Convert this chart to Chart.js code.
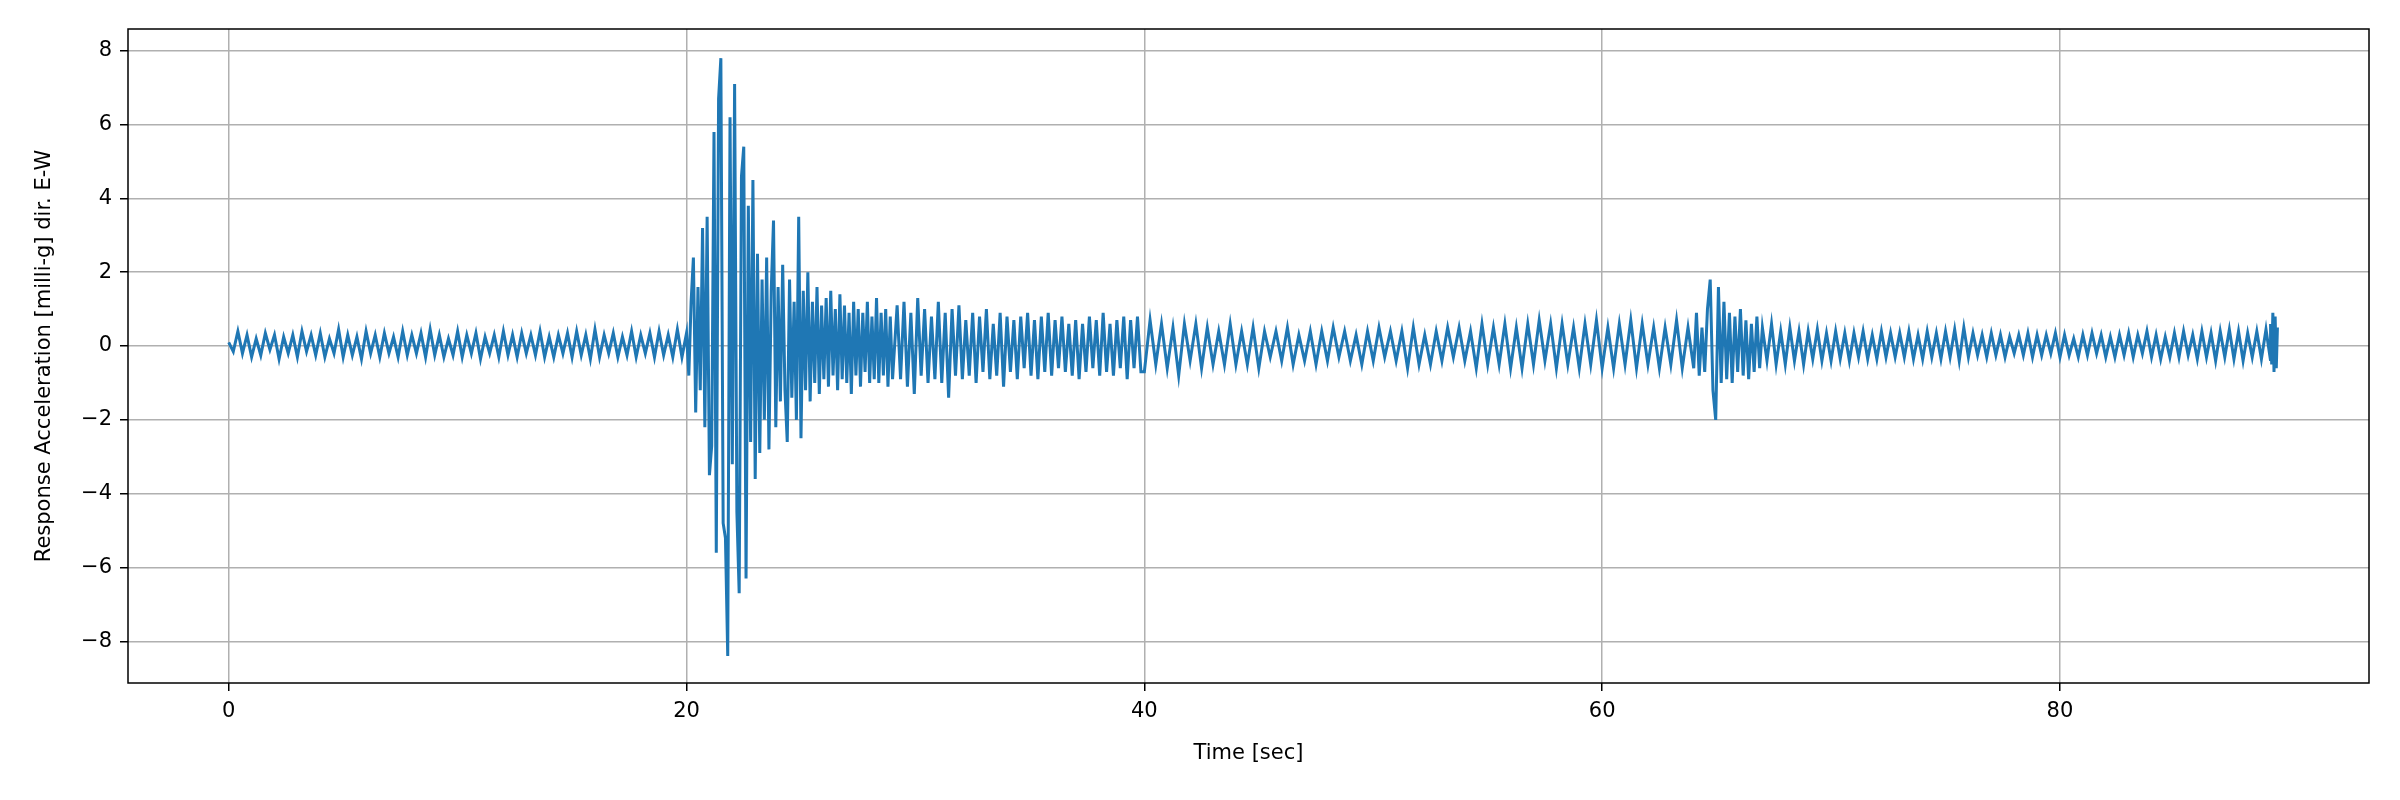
<!DOCTYPE html>
<html><head><meta charset="utf-8">
<script src="https://cdn.jsdelivr.net/npm/chart.js@4/dist/chart.umd.min.js"></script>
<style>html,body{margin:0;background:#fff}</style></head>
<body><canvas id="c" width="2400" height="800"></canvas>
<script>
// Segments of the record: start time [s], sample step [s], values [milli-g]
const seg1Start = 0, seg1Step = 0.2;
const seg1Values = [0.1,-0.15,0.4,-0.2,0.3,-0.3,0.2,-0.25,0.35,-0.1,0.3,-0.35,0.25,-0.2,0.3,-0.3,0.4,-0.15,0.3,-0.25,0.35,-0.3,0.2,-0.2,0.45,-0.3,0.3,-0.25,0.25,-0.35,0.4,-0.2,0.3,-0.3,0.35,-0.2,0.25,-0.3,0.4,-0.25,0.3,-0.2,0.35,-0.3,0.45,-0.25,0.3,-0.3,0.2,-0.25,0.4,-0.3,0.3,-0.2,0.35,-0.35,0.25,-0.2,0.3,-0.3,0.4,-0.25,0.3,-0.3,0.35,-0.2,0.3,-0.25,0.4,-0.3,0.25,-0.3,0.3,-0.2,0.35,-0.3,0.4,-0.25,0.3,-0.35,0.45,-0.3,0.3,-0.2,0.35,-0.3,0.25,-0.25,0.4,-0.3,0.3,-0.2,0.35,-0.3,0.4,-0.25,0.3,-0.3,0.45,-0.3,0.35];
const seg2Start = 20.1, seg2Step = 0.1;
const seg2Values = [-0.8,1.2,2.4,-1.8,1.6,-1.2,3.2,-2.2,3.5,-3.5,-2.7,5.8,-5.6,6.7,7.8,-4.8,-5.2,-8.4,6.2,-3.2,7.1,-4.5,-6.7,4.6,5.4,-6.3,3.8,-2.6,4.5,-3.6,2.5,-2.9,1.8,-2.0,2.4,-2.8,1.5,3.4,-2.2,1.6,-1.5,2.2,-1.2,-2.6,1.8,-1.4,1.2,-2.0,3.5,-2.5,1.5,-1.2,2.0,-1.5,1.2,-1.0,1.6,-1.3,1.1,-0.9,1.3,-1.1,1.5,-0.8,1.0,-1.2,1.4,-0.9,1.1,-1.0,0.9,-1.3,1.2,-0.8,1.0,-1.1,0.9,-0.7,1.2,-1.0,0.8,-0.9,1.3,-1.0,0.9,-0.8,1.0,-1.1,0.8,-0.9];
const seg3Start = 29.2, seg3Step = 0.15;
const seg3Values = [1.1,-0.9,1.2,-1.1,0.9,-1.3,1.3,-0.8,1.0,-1.0,0.8,-0.9,1.2,-1.0,0.9,-1.4,1.0,-0.8,1.1,-0.9,0.7,-0.8,0.9,-1.0,0.8,-0.7,1.0,-0.9,0.6,-0.8,0.9,-1.1,0.8,-0.7,0.7,-0.9,0.8,-0.6,0.9,-0.8,0.7,-0.9,0.8,-0.7,0.9,-0.8,0.7,-0.6,0.8,-0.7,0.6,-0.8,0.7,-0.9,0.6,-0.7,0.8,-0.6,0.7,-0.8,0.9,-0.7,0.6,-0.8,0.7,-0.6,0.8,-0.9,0.7,-0.6,0.8,-0.7];
const seg4Start = 40.0, seg4Step = 0.25;
const seg4Values = [-0.7,0.7,-0.5,0.6,-0.6,0.5,-0.8,0.6,-0.4,0.6,-0.6,0.5,-0.5,0.4,-0.5,0.6,-0.5,0.4,-0.5,0.5,-0.6,0.4,-0.3,0.4,-0.4,0.5,-0.5,0.3,-0.4,0.4,-0.5,0.4,-0.4,0.5,-0.3,0.4,-0.4,0.3,-0.5,0.4,-0.4,0.5,-0.3,0.4,-0.4,0.4,-0.6,0.5,-0.5,0.3,-0.5,0.4,-0.4,0.5,-0.3,0.5,-0.4,0.4,-0.6,0.6,-0.5,0.5,-0.5,0.6,-0.6,0.5,-0.6,0.6,-0.5,0.7,-0.4,0.6,-0.6,0.6,-0.5,0.5,-0.6,0.6,-0.5,0.7,-0.6,0.5,-0.6,0.6,-0.5,0.7,-0.6,0.6,-0.5,0.5,-0.6,0.5,-0.5,0.7,-0.6,0.5];
const seg5Start = 64.0, seg5Step = 0.12;
const seg5Values = [-0.6,0.9,-0.8,0.5,-0.7,1.0,1.8,-1.2,-2.0,1.6,-1.0,1.2,-0.9,0.9,-1.0,0.8,-0.7,1.0,-0.8,0.7,-0.9,0.6,-0.7,0.8,-0.6];
const seg6Start = 67.0, seg6Step = 0.2;
const seg6Values = [0.5,-0.4,0.6,-0.5,0.4,-0.5,0.5,-0.4,0.4,-0.5,0.4,-0.35,0.45,-0.4,0.35,-0.4,0.4,-0.35,0.35,-0.4,0.35,-0.3,0.4,-0.35,0.3,-0.35,0.4,-0.3,0.35,-0.3,0.35,-0.3,0.4,-0.35,0.3,-0.35,0.4,-0.3,0.35,-0.35,0.4,-0.3,0.45,-0.4,0.5,-0.3,0.35,-0.25,0.3,-0.3,0.35,-0.25,0.3,-0.3,0.25,-0.2,0.3,-0.25,0.35,-0.3,0.3,-0.25,0.3,-0.2,0.35,-0.3,0.3,-0.25,0.2,-0.3,0.3,-0.25,0.35,-0.2,0.3,-0.3,0.25,-0.3,0.3,-0.25,0.35,-0.3,0.3,-0.2,0.4,-0.3,0.3,-0.35,0.25,-0.3,0.35,-0.3,0.4,-0.25,0.3,-0.35,0.4,-0.3,0.35,-0.4,0.4,-0.3,0.45,-0.35,0.4,-0.4,0.35,-0.3,0.4,-0.35,0.45,-0.4];
const seg7Start = 89.2, seg7Step = 0.05;
const seg7Values = [0.6,-0.5,0.9,-0.7,0.8,-0.6,0.5];
const xTicks = [0,20,40,60,80];
const yTicks = [-8,-6,-4,-2,0,2,4,6,8];

const segments = [[seg1Start,seg1Step,seg1Values],[seg2Start,seg2Step,seg2Values],[seg3Start,seg3Step,seg3Values],[seg4Start,seg4Step,seg4Values],[seg5Start,seg5Step,seg5Values],[seg6Start,seg6Step,seg6Values],[seg7Start,seg7Step,seg7Values]];
const points = [];
segments.forEach(([s,st,v])=>v.forEach((y,i)=>points.push({x:+(s+i*st).toFixed(3),y})));

const font = {family:'"DejaVu Sans"', size:21};
const frame = {id:'frame', afterDraw(c){const a=c.chartArea,ctx=c.ctx;ctx.save();ctx.strokeStyle='#000';ctx.lineWidth=1.5;ctx.strokeRect(a.left,a.top,a.right-a.left,a.bottom-a.top);ctx.restore();}};
new Chart(document.getElementById('c'),{
 type:'line',
 data:{datasets:[{data:points,borderColor:'#1f77b4',borderWidth:3,pointRadius:0,tension:0}]},
 options:{responsive:false,animation:false,devicePixelRatio:1,
  layout:{padding:{top:29,right:31,left:28,bottom:30}},
  plugins:{legend:{display:false},tooltip:{enabled:false}},
  scales:{
   x:{type:'linear',min:-4.4,max:93.5,
    afterBuildTicks:s=>{s.ticks=xTicks.map(v=>({value:v}));},
    afterFit:s=>{s.height=87;},
    ticks:{font,color:'#000',padding:8,callback:v=>String(v)},
    grid:{color:'#b0b0b0',lineWidth:1.5,tickLength:8,tickColor:'#000'},border:{display:false},
    title:{display:true,text:'Time [sec]',font,color:'#000',padding:{top:6}}},
   y:{type:'linear',min:-9.13,max:8.59,
    afterBuildTicks:s=>{s.ticks=yTicks.map(v=>({value:v}));},
    afterFit:s=>{s.width=100;},
    ticks:{font,color:'#000',padding:8,callback:v=>String(v).replace('-','\u2212')},
    grid:{color:'#b0b0b0',lineWidth:1.5,tickLength:8,tickColor:'#000'},border:{display:false},
    title:{display:true,text:'Response Acceleration [milli-g] dir. E-W',font,color:'#000',padding:{bottom:6}}}
  }},
 plugins:[frame]
});
</script></body></html>
